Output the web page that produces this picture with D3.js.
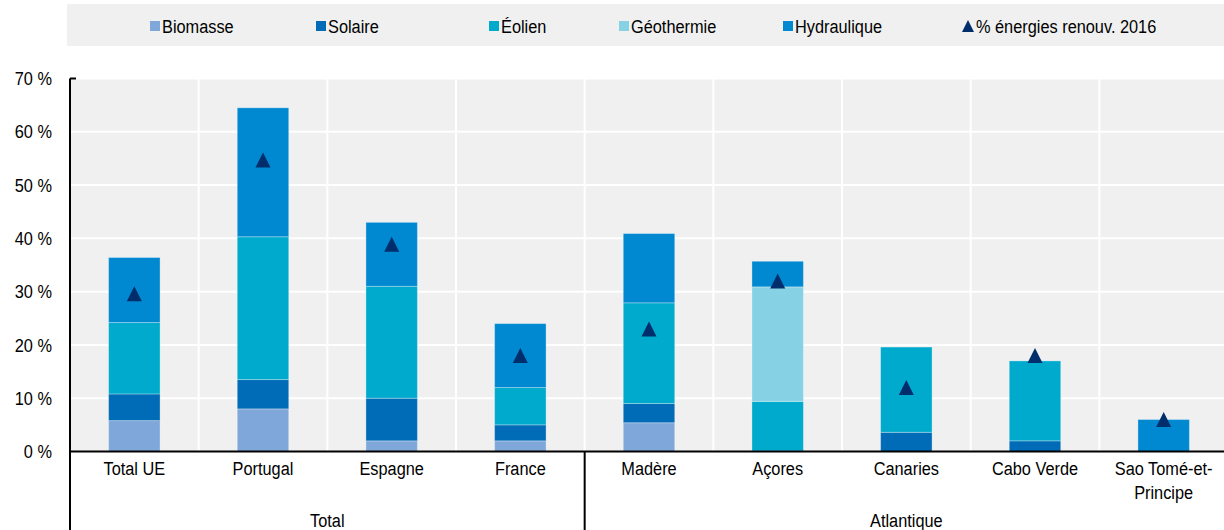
<!DOCTYPE html>
<html>
<head>
<meta charset="utf-8">
<script src="https://cdn.jsdelivr.net/npm/d3@7"></script>
<style>
  html, body { margin: 0; padding: 0; background: #ffffff; }
  svg { display: block; }
  text { font-family: "Liberation Sans", Arial, sans-serif; fill: #000; }
</style>
</head>
<body>
<svg id="chart" width="1224" height="530"></svg>
<script>
// Part des énergies renouvelables dans la production d'électricité, par source
const categories = ["Total UE", "Portugal", "Espagne", "France", "Madère", "Açores", "Canaries", "Cabo Verde", "Sao Tomé-et-Principe"];
const categoryLines = [["Total UE"], ["Portugal"], ["Espagne"], ["France"], ["Madère"], ["Açores"], ["Canaries"], ["Cabo Verde"], ["Sao Tomé-et-", "Principe"]];
const groups = ["Total", "Total", "Total", "Total", "Atlantique", "Atlantique", "Atlantique", "Atlantique", "Atlantique"];

const seriesNames = ["Biomasse", "Solaire", "Éolien", "Géothermie", "Hydraulique"];
const biomasse    = [5.8, 8.0, 2.0, 2.0, 5.4, 0.0, 0.0, 0.0, 0.0];
const solaire     = [5.0, 5.5, 8.0, 3.0, 3.6, 0.1, 3.6, 2.0, 0.0];
const eolien      = [13.4, 26.8, 21.0, 7.0, 18.9, 9.3, 16.0, 15.0, 0.0];
const geothermie  = [0.0, 0.0, 0.0, 0.0, 0.0, 21.5, 0.0, 0.0, 0.0];
const hydraulique = [12.2, 24.2, 12.0, 12.0, 13.0, 4.8, 0.0, 0.0, 6.0];
const renouv2016  = [29.6, 54.7, 38.9, 18.0, 23.0, 32.0, 12.0, 18.0, 6.0];
const markerName = "% énergies renouv. 2016";

const yTicks = [0, 10, 20, 30, 40, 50, 60, 70];

const colors = {
  "Biomasse": "#7fa7d9",
  "Solaire": "#006bb6",
  "Éolien": "#00aacc",
  "Géothermie": "#86d1e4",
  "Hydraulique": "#0089d1"
};
const markerColor = "#002e6d";

const FONT = 19;       // px
const SQUEEZE = 0.86;  // narrow type

const svg = d3.select("#chart");
const W = 1224, H = 530;
const plot = { left: 70, right: 1228, top: 78.5, bottom: 451.5 };

const x = d3.scaleBand().domain(categories).range([plot.left, plot.right]).padding(0);
const y = d3.scaleLinear().domain([0, 70]).range([plot.bottom, plot.top]);
const barW = x.bandwidth() * 0.4;

// Horizontal narrowing of a text element around its anchor x
function squeeze(sel) {
  sel.each(function () {
    const t = d3.select(this);
    const ax = +t.attr("x") || 0;
    t.attr("transform", `translate(${ax},0) scale(${SQUEEZE},1) translate(${-ax},0)`);
  });
}

// ---- legend ----
const legend = svg.append("g");
legend.append("rect").attr("x", 67).attr("y", 4).attr("width", W - 67).attr("height", 42).attr("fill", "#f0f0f0");
const legendItems = [
  { name: "Biomasse", x: 150 },
  { name: "Solaire", x: 316 },
  { name: "Éolien", x: 489 },
  { name: "Géothermie", x: 619 },
  { name: "Hydraulique", x: 783 },
  { name: markerName, x: 962, marker: true }
];
legendItems.forEach(it => {
  const g = legend.append("g");
  if (it.marker) {
    g.append("path")
      .attr("d", `M${it.x},${32} L${it.x + 6},${20} L${it.x + 12},${32} Z`)
      .attr("fill", markerColor);
  } else {
    g.append("rect").attr("x", it.x).attr("y", 21).attr("width", 10).attr("height", 10).attr("fill", colors[it.name]);
  }
  g.append("text")
    .attr("x", it.x + (it.marker ? 14 : 12))
    .attr("y", 33)
    .attr("font-size", FONT)
    .text(it.name)
    .call(squeeze);
});

// ---- plot background and grid ----
svg.append("rect")
  .attr("x", plot.left).attr("y", plot.top)
  .attr("width", plot.right - plot.left).attr("height", plot.bottom - plot.top)
  .attr("fill", "#f0f0f0");

svg.append("g").selectAll("line.h")
  .data(yTicks.filter(d => d > 0))
  .join("line")
  .attr("x1", plot.left).attr("x2", plot.right)
  .attr("y1", d => y(d)).attr("y2", d => y(d))
  .attr("stroke", "#ffffff").attr("stroke-width", 2);

svg.append("g").selectAll("line.v")
  .data(categories.slice(1))
  .join("line")
  .attr("x1", d => x(d)).attr("x2", d => x(d))
  .attr("y1", plot.top).attr("y2", plot.bottom)
  .attr("stroke", "#ffffff").attr("stroke-width", 2);

// ---- stacked bars ----
const rows = categories.map((c, i) => ({
  cat: c,
  "Biomasse": biomasse[i],
  "Solaire": solaire[i],
  "Éolien": eolien[i],
  "Géothermie": geothermie[i],
  "Hydraulique": hydraulique[i]
}));
const stacked = d3.stack().keys(seriesNames)(rows);

svg.append("g").selectAll("g")
  .data(stacked)
  .join("g")
  .attr("fill", d => colors[d.key])
  .selectAll("rect")
  .data(d => d.filter(s => s[1] - s[0] > 0))
  .join("rect")
  .attr("x", d => x(d.data.cat) + (x.bandwidth() - barW) / 2)
  .attr("width", barW)
  .attr("y", d => y(d[1]))
  .attr("height", d => y(d[0]) - y(d[1]))
  .attr("stroke", "rgba(255,255,255,0.3)")
  .attr("stroke-width", 1);

// ---- 2016 markers ----
const tri = 7.5;
svg.append("g").selectAll("path")
  .data(categories.map((c, i) => ({ cat: c, v: renouv2016[i] })))
  .join("path")
  .attr("d", d => {
    const cx = x(d.cat) + x.bandwidth() / 2, cy = y(d.v);
    return `M${cx - tri},${cy + tri} L${cx},${cy - tri} L${cx + tri},${cy + tri} Z`;
  })
  .attr("fill", markerColor);

// ---- y axis ----
const yAxis = svg.append("g")
  .attr("transform", `translate(${plot.left},0)`)
  .call(d3.axisLeft(y).tickValues(yTicks).tickSize(0).tickPadding(18).tickFormat(d => d + "\u00a0%"));
yAxis.select(".domain").remove();
yAxis.selectAll("text").attr("font-size", FONT).attr("font-family", null).call(squeeze);

// ---- x axis ----
const xAxis = svg.append("g")
  .attr("transform", `translate(0,${plot.bottom})`)
  .call(d3.axisBottom(x).tickSize(0).tickPadding(10));
xAxis.select(".domain").remove();
xAxis.selectAll(".tick text")
  .attr("font-size", FONT).attr("font-family", null)
  .each(function (d) {
    const t = d3.select(this);
    const lines = categoryLines[categories.indexOf(d)];
    t.text(null);
    lines.forEach((ln, k) => {
      t.append("tspan").attr("x", 0).attr("dy", k === 0 ? "0.71em" : "1.26em").text(ln);
    });
  })
  .call(squeeze);

// group labels under categories
const groupSpans = d3.groups(categories.map((c, i) => ({ c, g: groups[i] })), d => d.g)
  .map(([g, items]) => ({
    g,
    x0: x(items[0].c),
    x1: x(items[items.length - 1].c) + x.bandwidth()
  }));
svg.append("g").selectAll("text")
  .data(groupSpans)
  .join("text")
  .attr("x", d => (d.x0 + d.x1) / 2)
  .attr("y", 527)
  .attr("text-anchor", "middle")
  .attr("font-size", FONT)
  .text(d => d.g)
  .call(squeeze);

// ---- axis lines and separators ----
const axisColor = "#000";
svg.append("line")
  .attr("x1", plot.left).attr("x2", W)
  .attr("y1", plot.bottom).attr("y2", plot.bottom)
  .attr("stroke", axisColor).attr("stroke-width", 2);
svg.append("line")
  .attr("x1", plot.left).attr("x2", plot.left)
  .attr("y1", plot.top).attr("y2", H)
  .attr("stroke", axisColor).attr("stroke-width", 2);
svg.append("line")
  .attr("x1", plot.left).attr("x2", plot.left + 6)
  .attr("y1", plot.top).attr("y2", plot.top)
  .attr("stroke", axisColor).attr("stroke-width", 2);
svg.append("g").selectAll("line")
  .data(groupSpans.slice(1))
  .join("line")
  .attr("x1", d => d.x0).attr("x2", d => d.x0)
  .attr("y1", plot.bottom).attr("y2", H)
  .attr("stroke", axisColor).attr("stroke-width", 2);
</script>
</body>
</html>
